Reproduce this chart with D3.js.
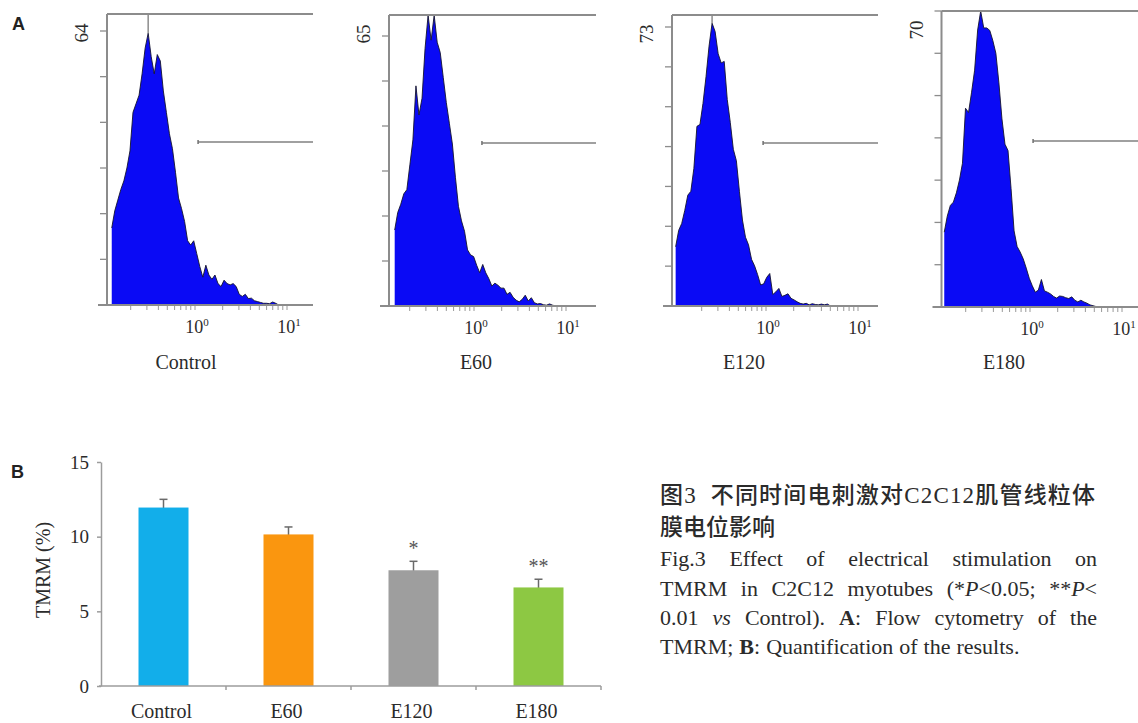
<!DOCTYPE html>
<html>
<head>
<meta charset="utf-8">
<script src="https://cdn.jsdelivr.net/npm/d3@7"></script>
<style>
  body { margin: 0; background: #fff; }
  svg { display: block; }
</style>
</head>
<body>
<svg id="fig" width="1138" height="723"></svg>
<script>
// ---- panel A: flow cytometry histograms ----
const panelNames = ['Control', 'E60', 'E120', 'E180'];
const countMax = [64, 65, 73, 70];
const countTickSteps = [6, 6, 7, 7];
// log10 of the first channel drawn, channels are evenly spaced in log10
const histStart = [-0.905, -0.862, -0.982, -0.932];
const histStep = 0.033;
const gateFrom = [1.08, 1.22, 0.93, 1.08];

const histControl = [18, 22, 24.5, 27, 29, 32, 36, 45, 47, 49, 54, 60, 63.5, 58, 54, 58.5, 57, 50, 45, 40,
  36.5, 31, 25, 22.5, 19.5, 15, 14, 15, 12, 9, 6.5, 9.3, 7, 6, 7, 5, 4.3, 5.8, 5, 4.7,
  5, 4.3, 2.5, 2, 2.5, 1.5, 1.6, 1, 0.8, 0.6, 0.4, 0.4, 0.3, 0.7, 0.4, 0];
const histE60 = [18.3, 22.5, 24.5, 27, 28, 34, 40, 53, 46, 50, 62, 70, 64, 70, 63.5, 61, 55, 49, 44, 39,
  31, 24, 20.5, 18, 13.5, 12.3, 11.9, 9.8, 8, 10, 8, 6.6, 4.8, 5.5, 5, 4.3, 4.3, 2.8, 3.3, 2.1,
  1.4, 1, 1.6, 2.6, 1.2, 2, 0.8, 0.5, 0.6, 0.3, 0.2, 0.5, 0.2, 0];
const histE120 = [15.5, 19.8, 21.6, 25, 29, 30, 36, 47, 47.5, 53, 60, 68, 74, 71.8, 66, 63.6, 64, 54, 48, 41,
  38, 30, 22.5, 18, 16, 12.2, 10.5, 8.2, 5.5, 5.8, 7.5, 8.5, 3, 3.7, 4.6, 2.5, 2.8, 3.2, 2, 1.6,
  1.1, 0.7, 0.5, 0.7, 0.3, 0.6, 0.4, 0.3, 0.5, 0.3, 0.5, 0];
const histE180 = [17.7, 21.5, 24, 24.8, 27, 30, 34, 47, 46, 50.8, 56, 65.5, 70, 66, 66, 65.4, 63, 60, 53, 44.5,
  38.5, 37, 28, 18, 14.3, 13, 11.4, 9.2, 6.8, 5, 3.5, 4, 6.5, 3.8, 3.5, 3.1, 2.5, 2.1, 2.6, 2.5,
  2.2, 2, 2.4, 1.6, 1.2, 1.6, 1.2, 0.9, 0.5, 0.3, 0.1, 0];
const histograms = [histControl, histE60, histE120, histE180];

// ---- panel B: TMRM quantification ----
const groups = ['Control', 'E60', 'E120', 'E180'];
const tmrm = [11.95, 10.15, 7.75, 6.6];
const tmrmErr = [0.55, 0.5, 0.6, 0.55];
const signif = ['', '', '*', '**'];
const yTicksB = [0, 5, 10, 15];
const barColors = ['#12aeea', '#fa960f', '#9e9e9e', '#8dc843'];

const SERIF = "'Liberation Serif', 'Times New Roman', serif";
const SANS = "'Liberation Sans', Arial, sans-serif";
const TEXT = '#2b2b2b';
const AXIS = '#8c8c8c';

const svg = d3.select('#fig');

// layout of the four histogram frames (pixels)
const histLayout = [
  { left: 107, right: 313, top: 14, base: 305, tickTop: 31, one: 195, label: 186, gateY: 142 },
  { left: 389, right: 596, top: 15, base: 306, tickTop: 36, one: 474, label: 476, gateY: 143 },
  { left: 672, right: 878, top: 15, base: 306, tickTop: 27, one: 766, label: 744, gateY: 143 },
  { left: 941.5, right: 1138, top: 11, base: 307, tickTop: 11, one: 1030, label: 1004, gateY: 141 }
];
const decade = 92;

svg.append('text').attr('x', 12).attr('y', 30)
  .attr('font-family', SANS).attr('font-weight', 'bold').attr('font-size', 18)
  .attr('fill', '#222').text('A');

histLayout.forEach((L, p) => {
  const g = svg.append('g');
  const x = d3.scaleLog().domain([1, 10]).range([L.one, L.one + decade]);
  const y = d3.scaleLinear().domain([0, countMax[p]]).range([L.base, L.tickTop]);
  const yClamp = v => Math.max(L.top, y(v));

  const pts = histograms[p].map((c, i) => ({ v: Math.pow(10, histStart[p] + i * histStep), c }));

  const area = d3.area()
    .x(d => x(d.v)).y0(L.base).y1(d => yClamp(d.c));
  g.append('path').datum(pts).attr('d', area).attr('fill', '#0a0af5');
  g.append('path').datum(pts)
    .attr('d', d3.line().x(d => x(d.v)).y(d => yClamp(d.c)))
    .attr('fill', 'none').attr('stroke', '#14142e').attr('stroke-width', 0.9);

  // line from the frame top down to the highest channel
  const peak = pts[d3.maxIndex(pts, d => d.c)];
  g.append('line')
    .attr('x1', x(peak.v)).attr('x2', x(peak.v))
    .attr('y1', L.top).attr('y2', yClamp(peak.c))
    .attr('stroke', AXIS).attr('stroke-width', 1.5);

  // frame: top line, left axis, bottom axis
  g.append('line').attr('x1', L.left).attr('x2', L.right).attr('y1', L.top).attr('y2', L.top)
    .attr('stroke', AXIS).attr('stroke-width', 2);
  g.append('line').attr('x1', L.left).attr('x2', L.left).attr('y1', L.top).attr('y2', L.base)
    .attr('stroke', AXIS).attr('stroke-width', 2);
  g.append('line').attr('x1', L.left - 9).attr('x2', L.right).attr('y1', L.base).attr('y2', L.base)
    .attr('stroke', AXIS).attr('stroke-width', 2);

  // y ticks
  const yt = d3.range(countTickSteps[p] + 1).map(i => countMax[p] * i / countTickSteps[p]);
  g.selectAll('.yt').data(yt).join('line')
    .attr('x1', L.left - 7).attr('x2', L.left)
    .attr('y1', d => y(d)).attr('y2', d => y(d))
    .attr('stroke', AXIS).attr('stroke-width', 1.3);

  g.append('text')
    .attr('transform', `translate(${L.left - 19},${L.top + 19}) rotate(-90)`)
    .attr('text-anchor', 'middle')
    .attr('font-family', SERIF).attr('font-size', 19).attr('fill', TEXT)
    .text(countMax[p]);

  // log x ticks
  const xv = x.copy().domain([x.invert(L.left + 4), x.invert(L.right - 4)]);
  g.selectAll('.xt').data(xv.ticks()).join('line')
    .attr('x1', d => x(d)).attr('x2', d => x(d))
    .attr('y1', L.base + 1).attr('y2', L.base + 5)
    .attr('stroke', '#9a9a9a').attr('stroke-width', 1);

  [[1, '0'], [10, '1']].forEach(([v, e]) => {
    const t = g.append('text').attr('x', x(v) + 2).attr('y', L.base + 28)
      .attr('text-anchor', 'middle')
      .attr('font-family', SERIF).attr('font-size', 18).attr('fill', TEXT);
    t.append('tspan').text('10');
    t.append('tspan').attr('dy', -7).attr('font-size', 11).text(e);
  });

  // gate marker
  g.append('line')
    .attr('x1', x(gateFrom[p])).attr('x2', L.right)
    .attr('y1', L.gateY).attr('y2', L.gateY)
    .attr('stroke', '#808080').attr('stroke-width', 1.6);
  g.append('line')
    .attr('x1', x(gateFrom[p])).attr('x2', x(gateFrom[p]))
    .attr('y1', L.gateY - 2).attr('y2', L.gateY + 2)
    .attr('stroke', '#707070').attr('stroke-width', 1.5);

  g.append('text').attr('x', L.label).attr('y', 369)
    .attr('text-anchor', 'middle')
    .attr('font-family', SERIF).attr('font-size', 20).attr('fill', TEXT)
    .text(panelNames[p]);
});

// ---- bar chart ----
const bx = d3.scaleBand().domain(groups).range([101, 601]).paddingInner(0.6).paddingOuter(0.3);
const by = d3.scaleLinear().domain([0, 15]).range([686, 462]);

svg.append('text').attr('x', 11).attr('y', 478)
  .attr('font-family', SANS).attr('font-weight', 'bold').attr('font-size', 18)
  .attr('fill', '#222').text('B');

const gb = svg.append('g');

// error bars first so the bars cover their lower half
gb.selectAll('.err').data(groups).join('g').each(function(d, i) {
  const cx = bx(d) + bx.bandwidth() / 2;
  const gg = d3.select(this);
  gg.append('line').attr('x1', cx).attr('x2', cx)
    .attr('y1', by(tmrm[i] - tmrmErr[i])).attr('y2', by(tmrm[i] + tmrmErr[i]))
    .attr('stroke', '#6a6a6a').attr('stroke-width', 1.5);
  gg.append('line').attr('x1', cx - 4).attr('x2', cx + 4)
    .attr('y1', by(tmrm[i] + tmrmErr[i])).attr('y2', by(tmrm[i] + tmrmErr[i]))
    .attr('stroke', '#6a6a6a').attr('stroke-width', 1.5);
});

gb.selectAll('.bar').data(groups).join('rect')
  .attr('x', d => bx(d)).attr('width', bx.bandwidth())
  .attr('y', (d, i) => by(tmrm[i])).attr('height', (d, i) => by(0) - by(tmrm[i]))
  .attr('fill', (d, i) => barColors[i]);

gb.selectAll('.sig').data(groups).join('text')
  .attr('x', d => bx(d) + bx.bandwidth() / 2)
  .attr('y', (d, i) => by(tmrm[i] + tmrmErr[i]) - 6)
  .attr('text-anchor', 'middle')
  .attr('font-family', SERIF).attr('font-size', 20).attr('fill', '#555')
  .text((d, i) => signif[i]);

// y axis
const yAxis = gb.append('g').attr('transform', 'translate(101,0)')
  .call(d3.axisLeft(by).tickValues(yTicksB).tickSize(4).tickSizeOuter(0).tickPadding(8));
yAxis.select('.domain').attr('stroke', '#9c9c9c').attr('stroke-width', 1.5);
yAxis.selectAll('.tick line').attr('stroke', '#9c9c9c').attr('stroke-width', 1.5);
yAxis.selectAll('.tick text')
  .attr('font-family', SERIF).attr('font-size', 19).attr('fill', TEXT);

// x axis with ticks on the band boundaries
gb.append('line').attr('x1', 99).attr('x2', 601).attr('y1', by(0)).attr('y2', by(0))
  .attr('stroke', '#9c9c9c').attr('stroke-width', 1.5);
gb.selectAll('.xb').data(groups).join('line')
  .attr('x1', d => bx(d) + bx.step() * 0.7).attr('x2', d => bx(d) + bx.step() * 0.7)
  .attr('y1', by(0)).attr('y2', by(0) + 4)
  .attr('stroke', '#9c9c9c').attr('stroke-width', 1.5);
gb.selectAll('.xl').data(groups).join('text')
  .attr('x', d => bx(d) + bx.bandwidth() / 2 - 2).attr('y', 718)
  .attr('text-anchor', 'middle')
  .attr('font-family', SERIF).attr('font-size', 20).attr('fill', TEXT)
  .text(d => d);

gb.append('text')
  .attr('transform', 'translate(50,570) rotate(-90)')
  .attr('text-anchor', 'middle')
  .attr('font-family', SERIF).attr('font-size', 20).attr('fill', TEXT)
  .text('TMRM (%)');

// ---- figure caption ----
const cap = svg.append('g').attr('fill', TEXT);
const capX = 660, capW = 437;
const cjkFont = "'Liberation Serif', 'Noto Sans CJK SC', sans-serif";
const title1 = cap.append('text').attr('x', capX).attr('y', 503)
  .attr('font-family', cjkFont).attr('font-size', 23).attr('font-weight', 500)
  .attr('textLength', capW - 2).attr('lengthAdjust', 'spacing');
title1.append('tspan').text('图3\u00a0\u00a0');
title1.append('tspan').text('不同时间电刺激对C2C12肌管线粒体');
cap.append('text').attr('x', capX).attr('y', 535)
  .attr('font-family', cjkFont).attr('font-size', 23).attr('font-weight', 500)
  .text('膜电位影响');

// words: runs are plain strings, {i: ...} italic, {b: ...} bold
const capLines = [
  { y: 566, justify: true, words: [['Fig.3'], ['Effect'], ['of'], ['electrical'], ['stimulation'], ['on']] },
  { y: 596, justify: true, words: [['TMRM'], ['in'], ['C2C12'], ['myotubes'], ['(*', { i: 'P' }, '<0.05;'], ['**', { i: 'P' }, '<']] },
  { y: 625, justify: true, words: [['0.01'], [{ i: 'vs' }], ['Control).'], [{ b: 'A' }, ':'], ['Flow'], ['cytometry'], ['of'], ['the']] },
  { y: 654, justify: false, words: [['TMRM;'], [{ b: 'B' }, ':'], ['Quantification'], ['of'], ['the'], ['results.']] }
];

capLines.forEach(line => {
  const nodes = line.words.map(w => {
    const t = cap.append('text').attr('y', line.y)
      .attr('font-family', SERIF).attr('font-size', 22);
    w.forEach(r => {
      const s = t.append('tspan');
      if (typeof r === 'string') s.text(r);
      else if (r.i) s.attr('font-style', 'italic').text(r.i);
      else s.attr('font-weight', 'bold').text(r.b);
    });
    return t;
  });
  const widths = nodes.map(n => n.node().getComputedTextLength());
  const gap = line.justify ? (capW - d3.sum(widths)) / (nodes.length - 1) : 6;
  let cx = capX;
  nodes.forEach((n, i) => { n.attr('x', cx); cx += widths[i] + gap; });
});
</script>
</body>
</html>
